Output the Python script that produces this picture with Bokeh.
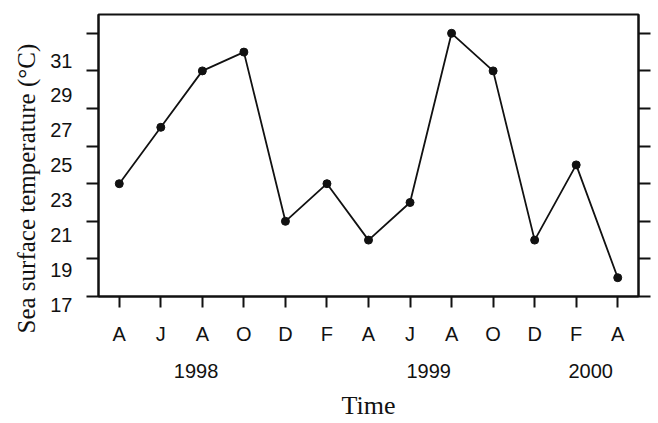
from bokeh.plotting import figure
from bokeh.models import Range1d, LinearAxis, FixedTicker, Title
from bokeh.embed import file_html
from bokeh.resources import INLINE

# ---- data ----
months = ["A", "J", "A", "O", "D", "F", "A", "J", "A", "O", "D", "F", "A"]
temps = [24, 27, 30, 31, 22, 24, 21, 23, 32, 30, 21, 25, 19]
years = ["1998", "1999", "2000"]
year_pos = [1.85, 7.45, 11.35]
y_labels = [17, 19, 21, 23, 25, 27, 29, 31]
y_tick_marks = [18, 20, 22, 24, 26, 28, 30, 32]

x = list(range(len(months)))

SANS = "Liberation Sans"
SERIF = "Liberation Serif"
INK = "#111111"

p = figure(frame_width=540, frame_height=282,
           x_range=Range1d(-0.5, len(months) - 0.5),
           y_range=Range1d(18, 33),
           output_backend="svg", toolbar_location=None,
           min_border_left=98, min_border_right=20,
           min_border_top=14, min_border_bottom=127,
           x_axis_type=None, y_axis_type=None)
p.grid.visible = False
p.background_fill_color = "white"
p.border_fill_color = "white"
p.outline_line_color = INK
p.outline_line_width = 2

# printed labels of the scanned axis sit on their own (slightly compressed) scale
p.extra_y_ranges = {"ylab": Range1d(16.71, 32.89)}


def tick_only_axis():
    ax = LinearAxis()
    ax.ticker = FixedTicker(ticks=[], minor_ticks=y_tick_marks)
    ax.major_tick_out = 12
    ax.major_tick_in = 0
    ax.minor_tick_out = 12
    ax.minor_tick_in = 0
    ax.minor_tick_line_width = 2
    ax.minor_tick_line_color = INK
    ax.axis_line_width = 2
    ax.axis_line_color = INK
    ax.major_label_standoff = 0
    return ax


p.add_layout(tick_only_axis(), "left")
p.add_layout(tick_only_axis(), "right")

yl = LinearAxis(y_range_name="ylab")
yl.ticker = FixedTicker(ticks=y_labels, minor_ticks=[])
yl.major_label_overrides = {v: "\n" + str(v) for v in y_labels}
yl.major_tick_out = 0
yl.major_tick_in = 0
yl.major_tick_line_color = None
yl.minor_tick_line_color = None
yl.axis_line_color = None
yl.major_label_text_font = SANS
yl.major_label_text_font_size = "20px"
yl.major_label_text_color = INK
yl.major_label_standoff = 14
p.add_layout(yl, "left")

ytitle = Title(text="Sea surface temperature (°C)", align="left", offset=-37,
               vertical_align="middle", standoff=14,
               text_font=SERIF, text_font_style="normal",
               text_font_size="25px", text_color=INK)
p.add_layout(ytitle, "left")

# month axis
xb = LinearAxis()
xb.ticker = FixedTicker(ticks=x, minor_ticks=[])
xb.major_label_overrides = {i: m for i, m in zip(x, months)}
xb.major_tick_out = 11
xb.major_tick_in = 0
xb.major_tick_line_width = 2
xb.major_tick_line_color = INK
xb.minor_tick_line_color = None
xb.axis_line_width = 2
xb.axis_line_color = INK
xb.major_label_text_font = SANS
xb.major_label_text_font_size = "20px"
xb.major_label_text_color = INK
xb.major_label_standoff = 15
p.add_layout(xb, "below")

# year axis
xy = LinearAxis(axis_label="Time")
xy.ticker = FixedTicker(ticks=year_pos, minor_ticks=[])
xy.major_label_overrides = {pos: yv for pos, yv in zip(year_pos, years)}
xy.major_tick_out = 0
xy.major_tick_in = 0
xy.major_tick_line_color = None
xy.minor_tick_line_color = None
xy.axis_line_color = None
xy.major_label_text_font = SANS
xy.major_label_text_font_size = "20px"
xy.major_label_text_color = INK
xy.major_label_standoff = 16
xy.axis_label_text_font = SERIF
xy.axis_label_text_font_style = "normal"
xy.axis_label_text_font_size = "26px"
xy.axis_label_text_color = INK
xy.axis_label_standoff = 10
p.add_layout(xy, "below")

p.line(x, temps, line_color=INK, line_width=1.8)
p.scatter(x, temps, size=8, color=INK)

open("out.html", "w").write(file_html(p, INLINE))
